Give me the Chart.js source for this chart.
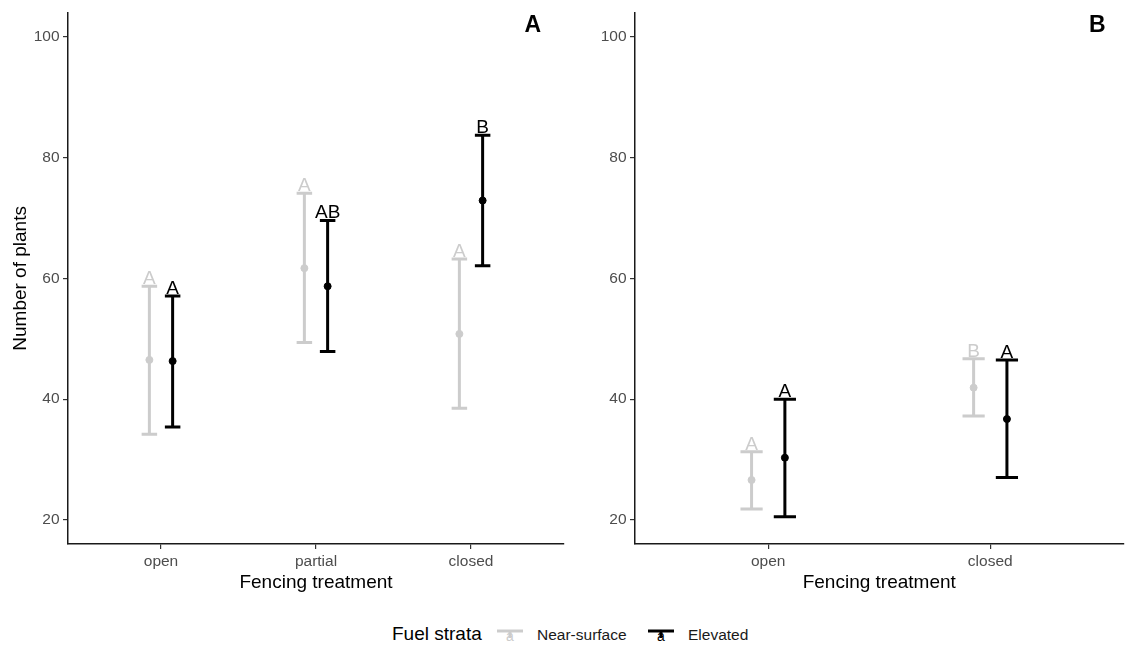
<!DOCTYPE html>
<html>
<head>
<meta charset="utf-8">
<script src="https://cdn.jsdelivr.net/npm/chart.js@4"></script>
<style>
  body { margin: 0; width: 1128px; height: 646px; overflow: hidden; position: relative; background: #fff;
         font-family: "Liberation Sans", Arial, sans-serif; }
  canvas { position: absolute; top: 0; }
  #chartA { left: 0; }
  #chartB { left: 570px; }
  .lg { position: absolute; white-space: nowrap; line-height: 1; }
  .lg-title { left: 392px; top: 624px; font-size: 19px; color: #000; }
  .lg-text { top: 627px; font-size: 15.5px; color: #1a1a1a; }
  .lg-key { position: absolute; top: 622px; }
</style>
</head>
<body>
<canvas id="chartA" width="580" height="600"></canvas>
<canvas id="chartB" width="558" height="600"></canvas>

<div class="lg lg-title">Fuel strata</div>
<svg class="lg-key" style="left:496px" width="28" height="22">
  <line x1="1" y1="9" x2="27" y2="9" stroke="#cccccc" stroke-width="3"/>
  <line x1="14" y1="9" x2="14" y2="16" stroke="#cccccc" stroke-width="3"/>
  <text x="14" y="19" text-anchor="middle" font-size="14" fill="#cccccc" font-family="Liberation Sans, Arial">a</text>
</svg>
<div class="lg lg-text" style="left:537px">Near-surface</div>
<svg class="lg-key" style="left:647px" width="28" height="22">
  <line x1="1" y1="9" x2="27" y2="9" stroke="#000" stroke-width="3"/>
  <line x1="14" y1="9" x2="14" y2="16" stroke="#000" stroke-width="3"/>
  <text x="14" y="19" text-anchor="middle" font-size="14" fill="#000" font-family="Liberation Sans, Arial">a</text>
</svg>
<div class="lg lg-text" style="left:688px">Elevated</div>

<script>
// --- data, panel A (three fencing treatments) ---
const catsA = ['open', 'partial', 'closed'];
const nearMeanA  = [46.5, 61.7, 50.8];
const nearLowA   = [34.2, 49.4, 38.5];
const nearHighA  = [58.7, 74.1, 63.2];
const nearLetA   = ['A', 'A', 'A'];
const elevMeanA  = [46.3, 58.7, 72.9];
const elevLowA   = [35.4, 47.9, 62.1];
const elevHighA  = [57.1, 69.6, 83.7];
const elevLetA   = ['A', 'AB', 'B'];

// --- data, panel B (two fencing treatments) ---
const catsB = ['open', 'closed'];
const nearMeanB  = [26.6, 41.9];
const nearLowB   = [21.8, 37.2];
const nearHighB  = [31.3, 46.7];
const nearLetB   = ['A', 'B'];
const elevMeanB  = [30.3, 36.7];
const elevLowB   = [20.5, 27.0];
const elevHighB  = [40.0, 46.5];
const elevLetB   = ['A', 'A'];

const yTicks = [20, 40, 60, 80, 100];

const NEAR = '#cccccc';
const ELEV = '#000000';
const DODGE = 0.075;   // half of dodge width 0.3
const CAP = 0.05;      // half of errorbar width 0.1

Chart.defaults.font.family = '"Liberation Sans", Arial, sans-serif';

function errorBarPlugin(groups, tag, tagInset) {
  return {
    id: 'errorBars' + tag,
    beforeDatasetsDraw(chart) {
      const { ctx, scales: { x, y } } = chart;
      groups.forEach(g => {
        ctx.save();
        ctx.strokeStyle = g.color;
        ctx.lineWidth = 3;
        g.low.forEach((lo, i) => {
          const xv = i + 1 + g.offset;
          const cx = x.getPixelForValue(xv);
          const half = x.getPixelForValue(xv + CAP) - cx;
          const yl = y.getPixelForValue(lo);
          const yh = y.getPixelForValue(g.high[i]);
          ctx.beginPath();
          ctx.moveTo(cx, yl); ctx.lineTo(cx, yh);
          ctx.moveTo(cx - half, yl); ctx.lineTo(cx + half, yl);
          ctx.moveTo(cx - half, yh); ctx.lineTo(cx + half, yh);
          ctx.stroke();
        });
        ctx.restore();
      });
    },
    afterDatasetsDraw(chart) {
      const { ctx, chartArea, scales: { x, y } } = chart;
      ctx.save();
      ctx.font = '19px "Liberation Sans", Arial, sans-serif';
      ctx.textAlign = 'center';
      ctx.textBaseline = 'alphabetic';
      groups.forEach(g => {
        ctx.fillStyle = g.color;
        g.letters.forEach((t, i) => {
          const cx = x.getPixelForValue(i + 1 + g.offset);
          ctx.fillText(t, cx, y.getPixelForValue(g.high[i]) - 2);
        });
      });
      // panel tag
      ctx.fillStyle = '#000';
      ctx.font = 'bold 23px "Liberation Sans", Arial, sans-serif';
      ctx.textAlign = 'right';
      ctx.fillText(tag, chartArea.right - tagInset, 32);
      ctx.restore();
    }
  };
}

function makeChart(id, cats, near, elev, tag, tagInset, yWidth, padRight) {
  const pts = (means, off) => means.map((v, i) => ({ x: i + 1 + off, y: v }));
  const tickColor = '#333333';
  return new Chart(document.getElementById(id), {
    type: 'scatter',
    data: {
      datasets: [
        { label: 'Near-surface', data: pts(near.mean, -DODGE), backgroundColor: NEAR, borderColor: NEAR, pointRadius: 3.5, pointHoverRadius: 3.5 },
        { label: 'Elevated', data: pts(elev.mean, DODGE), backgroundColor: ELEV, borderColor: ELEV, pointRadius: 3.5, pointHoverRadius: 3.5 }
      ]
    },
    options: {
      responsive: false,
      animation: false,
      events: [],
      layout: { padding: { top: 12, right: padRight, left: 0, bottom: 0 } },
      plugins: { legend: { display: false }, tooltip: { enabled: false } },
      scales: {
        x: {
          type: 'linear',
          min: 0.4,
          max: cats.length + 0.6,
          afterBuildTicks: s => { s.ticks = cats.map((c, i) => ({ value: i + 1 })); },
          afterFit: s => { s.height = 56; },
          grid: { drawOnChartArea: false, drawTicks: true, tickLength: 5, color: tickColor, lineWidth: 1.2 },
          border: { display: true, color: '#1a1a1a', width: 1.5 },
          ticks: { callback: v => cats[v - 1], color: '#4d4d4d', font: { size: 15.5 }, padding: 3, maxRotation: 0 },
          title: { display: true, text: 'Fencing treatment', color: '#000', font: { size: 19 }, padding: { top: 0, bottom: 6 } }
        },
        y: {
          type: 'linear',
          min: 16,
          max: 104,
          afterBuildTicks: s => { s.ticks = yTicks.map(v => ({ value: v })); },
          afterFit: s => { s.width = yWidth; },
          grid: { drawOnChartArea: false, drawTicks: true, tickLength: 5, color: tickColor, lineWidth: 1.2 },
          border: { display: true, color: '#1a1a1a', width: 1.5 },
          ticks: { color: '#4d4d4d', font: { size: 15.5 }, padding: 3.5 },
          title: { display: tag === 'A', text: 'Number of plants', color: '#000', font: { size: 19 }, padding: { top: 9, bottom: 0 } }
        }
      }
    },
    plugins: [errorBarPlugin([
      { color: NEAR, offset: -DODGE, low: near.low, high: near.high, letters: near.letters },
      { color: ELEV, offset: DODGE, low: elev.low, high: elev.high, letters: elev.letters }
    ], tag, tagInset)]
  });
}

makeChart('chartA', catsA,
  { mean: nearMeanA, low: nearLowA, high: nearHighA, letters: nearLetA },
  { mean: elevMeanA, low: elevLowA, high: elevHighA, letters: elevLetA },
  'A', 23, 68, 16);
makeChart('chartB', catsB,
  { mean: nearMeanB, low: nearLowB, high: nearHighB, letters: nearLetB },
  { mean: elevMeanB, low: elevLowB, high: elevHighB, letters: elevLetB },
  'B', 18, 65, 2);
</script>
</body>
</html>
